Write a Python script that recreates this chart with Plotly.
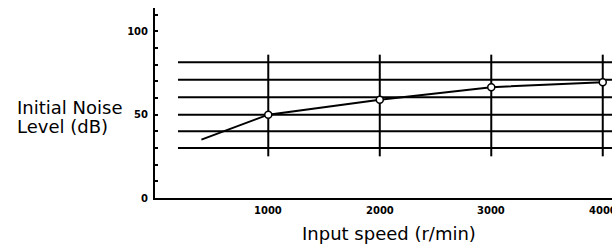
import plotly.graph_objects as go

# Data
speed = [400, 1000, 2000, 3000, 4000]
noise = [35, 50, 59, 66.5, 69.5]
marker_speed = [1000, 2000, 3000, 4000]
marker_noise = [50, 59, 66.5, 69.5]

grid_levels = [30, 40, 50, 60.5, 71, 81.5]
grid_x_span = [190, 4200]
vert_speeds = [1000, 2000, 3000, 4000]
vert_span = [25, 86]

y_tick_vals = [0, 50, 100]
y_tick_text = ["0", "50", "100"]
x_tick_vals = [1000, 2000, 3000, 4000]
x_tick_text = ["1000", "2000", "3000", "4000"]

fig = go.Figure()

for lvl in grid_levels:
    fig.add_trace(go.Scatter(x=grid_x_span, y=[lvl, lvl], mode="lines",
                             line=dict(color="black", width=2), hoverinfo="skip",
                             showlegend=False))
for vx in vert_speeds:
    fig.add_trace(go.Scatter(x=[vx, vx], y=vert_span, mode="lines",
                             line=dict(color="black", width=2), hoverinfo="skip",
                             showlegend=False))

fig.add_trace(go.Scatter(x=speed, y=noise, mode="lines",
                         line=dict(color="black", width=2), showlegend=False))
fig.add_trace(go.Scatter(x=marker_speed, y=marker_noise, mode="markers",
                         marker=dict(symbol="circle", size=7, color="white",
                                     line=dict(color="black", width=1.5)),
                         showlegend=False, cliponaxis=False))

title_font = dict(family="DejaVu Sans", size=18, color="black")
xtick_font = dict(family="DejaVu Sans", size=10, color="black", weight="bold")

# x tick labels drawn as annotations so the last (cut-off) one is kept
annotations = [
    dict(text=t, x=v, xref="x", y=0, yref="y", yshift=-12, yanchor="middle",
         xanchor="center", showarrow=False, font=xtick_font)
    for v, t in zip(x_tick_vals, x_tick_text)
]
annotations += [
    dict(text="Initial Noise", xref="paper", yref="paper",
         x=-0.306, y=(198 - 107) / 190, xanchor="left",
         yanchor="middle", showarrow=False, font=title_font),
    dict(text="Level (dB)", xref="paper", yref="paper",
         x=-0.306, y=(198 - 127) / 190, xanchor="left",
         yanchor="middle", showarrow=False, font=title_font),
    dict(text="Input speed (r/min)", xref="paper", yref="paper",
         x=(389 - 155) / 457, y=(198 - 234) / 190, xanchor="center",
         yanchor="middle", showarrow=False, font=title_font),
]

fig.update_layout(
    width=612, height=248,
    margin=dict(l=155, r=0, t=8, b=50),
    paper_bgcolor="white", plot_bgcolor="white",
    font=dict(family="DejaVu Sans", color="black"),
    xaxis=dict(range=[-16, 4083], showgrid=False, zeroline=False,
               showline=True, linecolor="black", linewidth=2,
               tickvals=x_tick_vals, ticktext=x_tick_text, ticks="",
               showticklabels=False),
    yaxis=dict(range=[0, 114], showgrid=False, zeroline=False,
               showline=True, linecolor="black", linewidth=2,
               tickvals=y_tick_vals, ticktext=y_tick_text,
               ticks="inside", ticklen=3, tickwidth=2, tickcolor="black",
               minor=dict(dtick=10, ticks="inside", ticklen=3, tickwidth=2,
                          tickcolor="black", showgrid=False),
               tickfont=dict(family="DejaVu Sans", size=10, color="black", weight="bold"),
               ticklabelstandoff=3),
    annotations=annotations,
)

fig.write_html("out.html", config={"displayModeBar": False},
               post_script="document.body.style.margin='0';document.body.style.overflow='hidden';")
